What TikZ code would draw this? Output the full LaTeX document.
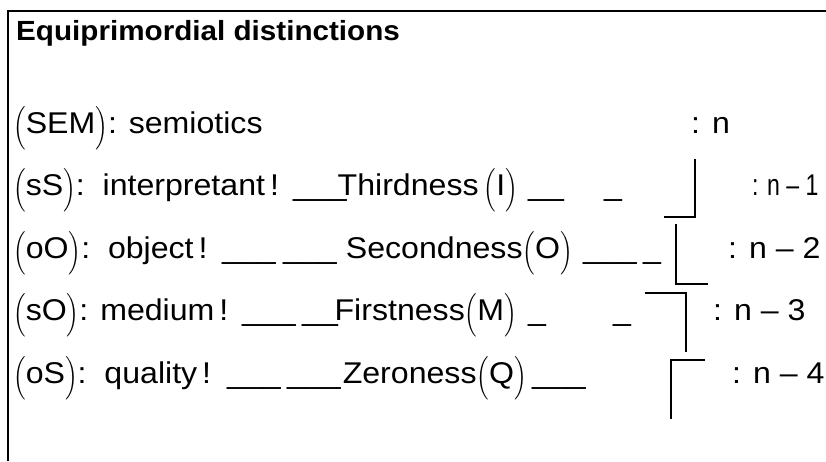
\documentclass[tikz,border=0pt]{standalone}
\usepackage{amsmath}
\usepackage{graphicx}
\usepackage{fontspec}
\setmainfont{Liberation Sans}[FakeStretch=1.07]
\usetikzlibrary{positioning}

% tall thin parentheses round a symbol
\newcommand{\pr}[1]{\raisebox{-1pt}{\scalebox{.85}[.97]{$\Bigl($}}#1\raisebox{-1pt}{\scalebox{.85}[.97]{$\Bigr)$}}}

\begin{document}
\begin{tikzpicture}[x=1pt, y=-1pt,
  txt/.style={anchor=base west, inner sep=0pt, font=\fontsize{30}{34}\selectfont},
  txtr/.style={txt, anchor=base east},
  ttl/.style={txt, font=\fontsize{27.7}{30}\selectfont\bfseries},
  brk/.style={line width=2.2pt},
  frm/.style={line width=2.4pt},
]
\useasboundingbox (0,0) rectangle (826,461);
\draw[frm] (8,461) -- (8,11) -- (826,11);

\node[ttl] (title) at (16,40) {Equiprimordial distinctions};

% row SEM
\node[txt] (sem) at (13,133) {\pr{SEM}: semiotics};

% row sS
\node[txt] (ss)    at (13,195.5)   {\pr{sS}:\ \ interpretant\,!};
\node[txt] (ssa)   at (293,195.5)  {\_\_\_};
\node[txtr] (ssb)  at (518,195.5)  {Thirdness\,\pr{I}};
\node[txt] (ssc)   at (528,195.5)  {\_\_};
\node[txt] (ssd)   at (604,195.5)  {\_};

% row oO
\node[txt] (oo)    at (13,258)   {\pr{oO}:\ \ object\,!};
\node[txt] (ooa)   at (222,258)  {\_\_\_};
\node[txt] (oob)   at (283,258)  {\_\_\_};
\node[txtr] (ooc)  at (573,258)  {Secondness\pr{O}};
\node[txt] (ood)   at (583,258)  {\_\_\_};
\node[txt] (ooe)   at (643,258)  {\_};

% row sO
\node[txt] (so)    at (13,320.5)   {\pr{sO}: medium\,!};
\node[txt] (soa)   at (242,320.5)  {\_\_\_};
\node[txt] (sob)   at (302,320.5)  {\_\_};
\node[txtr] (soc)  at (517,320.5)  {Firstness\pr{M}};
\node[txt] (sod)   at (528,320.5)  {\_};
\node[txt] (soe)   at (613,320.5)  {\_};

% row oS
\node[txt] (os)    at (13,383)   {\pr{oS}:\ \ quality\,!};
\node[txt] (osa)   at (227,383)  {\_\_\_};
\node[txt] (osb)   at (287,383)  {\_\_\_};
\node[txtr] (osc)  at (527,383)  {Zeroness\pr{Q}};
\node[txt] (osd)   at (532,383)  {\_\_\_};

% levels on the right
\foreach \nm/\lbl/\xx/\yy in {r0/{n}/691/133, r2/{n – 2}/728/258,
    r3/{n – 3}/713/320.5, r4/{n – 4}/732/383}
  \node[txt] (\nm) at (\xx,\yy) {: \lbl};
\node[txt] (r1) at (752,195.5) {\scalebox{.72}[1]{: n – 1}};

% brackets
\draw[brk] (695,159) -- (695,217) -- (664,217);
\draw[brk] (676,224) -- (676,284) -- (708,284);
\draw[brk] (645,293) -- (686,293) -- (686,352);
\draw[brk] (705,360) -- (671,360) -- (671,419);
\end{tikzpicture}
\end{document}
